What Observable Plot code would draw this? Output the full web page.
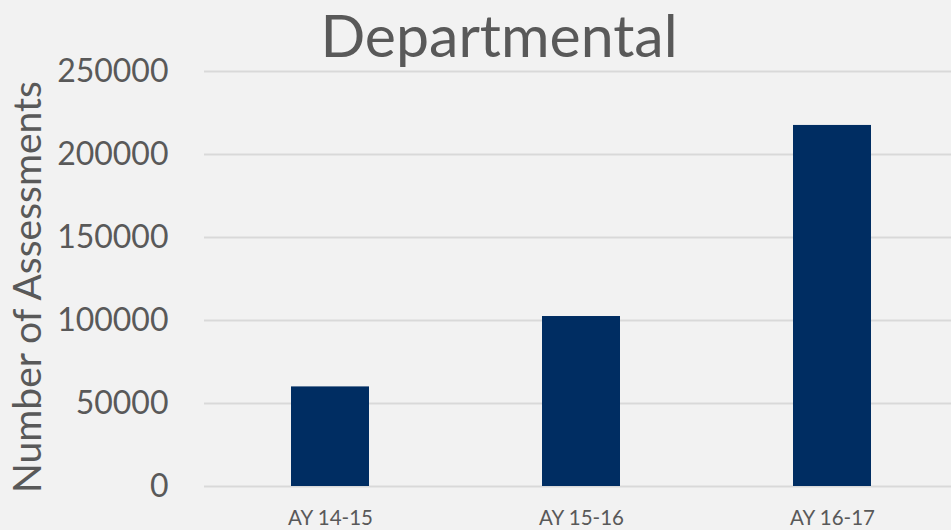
<!DOCTYPE html>
<html>
<head>
<meta charset="utf-8">
<script src="https://cdn.jsdelivr.net/npm/d3@7"></script>
<script src="https://cdn.jsdelivr.net/npm/@observablehq/plot@0.6"></script>
<style>
  html, body { margin: 0; padding: 0; background: #f2f2f2; }
  #wrap { position: relative; width: 951px; height: 530px; background: #f2f2f2; overflow: hidden; }
  #title { position: absolute; z-index: 2; left: 0; width: 998px; top: 3px; text-align: center;
           font-family: Lato, sans-serif; font-size: 59px; color: #595959; line-height: 1.1; white-space: nowrap; }
  #chart { position: absolute; z-index: 1; left: 0; top: 0; }
</style>
</head>
<body>
<div id="wrap">
  <div id="title">Departmental</div>
  <div id="chart"></div>
</div>
<script>
const categories = ["AY 14-15", "AY 15-16", "AY 16-17"];
const values = [60000, 102400, 217500];
const yTicks = [0, 50000, 100000, 150000, 200000, 250000];
const yLabel = "Number of Assessments";

const data = categories.map((c, i) => ({category: c, value: values[i]}));

const chart = Plot.plot({
  width: 951,
  height: 530,
  marginTop: 71,
  marginBottom: 44,
  marginLeft: 204,
  marginRight: 0,
  style: {background: "transparent", fontFamily: "Lato, sans-serif", color: "#595959"},
  x: {domain: categories, range: [204, 957], paddingInner: 0.69, paddingOuter: 0.345},
  y: {domain: [0, 250000]},
  marks: [
    Plot.gridY(yTicks, {stroke: "#d9d9d9", strokeOpacity: 1, strokeWidth: 2}),
    Plot.barY(data, {x: "category", y: "value", fill: "#002d62"}),
    Plot.axisY(yTicks, {tickSize: 0, tickPadding: 36, fontSize: 32, fill: "#595959",
      tickFormat: d3.format("d"), label: null}),
    Plot.axisX({tickSize: 0, tickPadding: 24, fontSize: 20.5, fill: "#595959", label: null}),
    Plot.text([yLabel], {frameAnchor: "left", dx: -176, dy: 8, rotate: -90, textAnchor: "middle",
      fontSize: 39, fill: "#595959", text: d => d})
  ]
});
document.getElementById("chart").appendChild(chart);
</script>
</body>
</html>
